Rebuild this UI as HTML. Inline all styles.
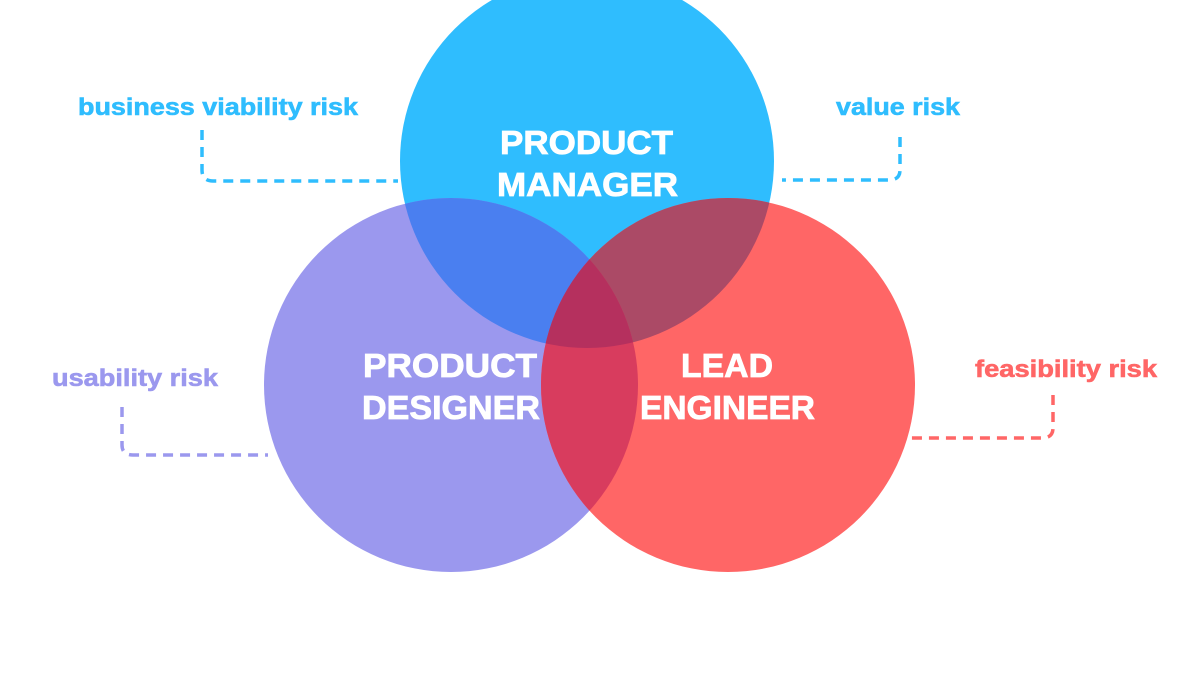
<!DOCTYPE html>
<html><head><meta charset="utf-8"><style>
html,body{margin:0;padding:0;background:#fff;}
svg{display:block;}
text{font-family:"Liberation Sans",sans-serif;font-weight:bold;}
</style></head><body>
<svg width="1200" height="675" viewBox="0 0 1200 675">
<defs>
<clipPath id="cPM"><circle cx="587" cy="161" r="187"/></clipPath>
<clipPath id="cD"><circle cx="451" cy="385" r="187"/></clipPath>
<clipPath id="cE"><circle cx="728" cy="385" r="187"/></clipPath>
</defs>
<circle cx="587" cy="161" r="187" fill="#2FBDFE"/>
<circle cx="451" cy="385" r="187" fill="#9B98EE"/>
<circle cx="728" cy="385" r="187" fill="#FF6666"/>
<circle cx="451" cy="385" r="187" fill="#4A7FF0" clip-path="url(#cPM)"/>
<circle cx="728" cy="385" r="187" fill="#AB4A66" clip-path="url(#cPM)"/>
<g clip-path="url(#cD)"><circle cx="728" cy="385" r="187" fill="#D83C5E"/></g>
<g clip-path="url(#cD)"><g clip-path="url(#cE)"><circle cx="587" cy="161" r="187" fill="#B5305E"/></g></g>
<g fill="#fff" font-size="33" stroke="#fff" stroke-width="0.8">
<text x="500" y="154" textLength="173" lengthAdjust="spacingAndGlyphs">PRODUCT</text>
<text x="497" y="196" textLength="181" lengthAdjust="spacingAndGlyphs">MANAGER</text>
<text x="363" y="377" textLength="174" lengthAdjust="spacingAndGlyphs">PRODUCT</text>
<text x="362" y="419" textLength="178" lengthAdjust="spacingAndGlyphs">DESIGNER</text>
<text x="681" y="377" textLength="92" lengthAdjust="spacingAndGlyphs">LEAD</text>
<text x="640" y="419" textLength="175" lengthAdjust="spacingAndGlyphs">ENGINEER</text>
</g>
<g font-size="24" stroke-width="0.6">
<text x="78" y="115" fill="#2FBDFE" stroke="#2FBDFE" textLength="280" lengthAdjust="spacingAndGlyphs">business viability risk</text>
<text x="836" y="115" fill="#2FBDFE" stroke="#2FBDFE" textLength="124" lengthAdjust="spacingAndGlyphs">value risk</text>
<text x="52" y="386" fill="#9B98EE" stroke="#9B98EE" textLength="166" lengthAdjust="spacingAndGlyphs">usability risk</text>
<text x="975" y="377" fill="#FF6666" stroke="#FF6666" textLength="182" lengthAdjust="spacingAndGlyphs">feasibility risk</text>
</g>
<g fill="none" stroke-width="3.5" stroke-dasharray="10,7">
<path d="M202 130 V170 Q202 181 213 181 H398" stroke="#2FBDFE"/>
<path d="M900 137 V170 Q900 180 889 180 H782" stroke="#2FBDFE"/>
<path d="M122 407 V445 Q122 455 133 455 H268" stroke="#9B98EE"/>
<path d="M1053 395 V428 Q1053 438 1042 438 H907" stroke="#FF6666"/>
</g>
</svg>
</body></html>
